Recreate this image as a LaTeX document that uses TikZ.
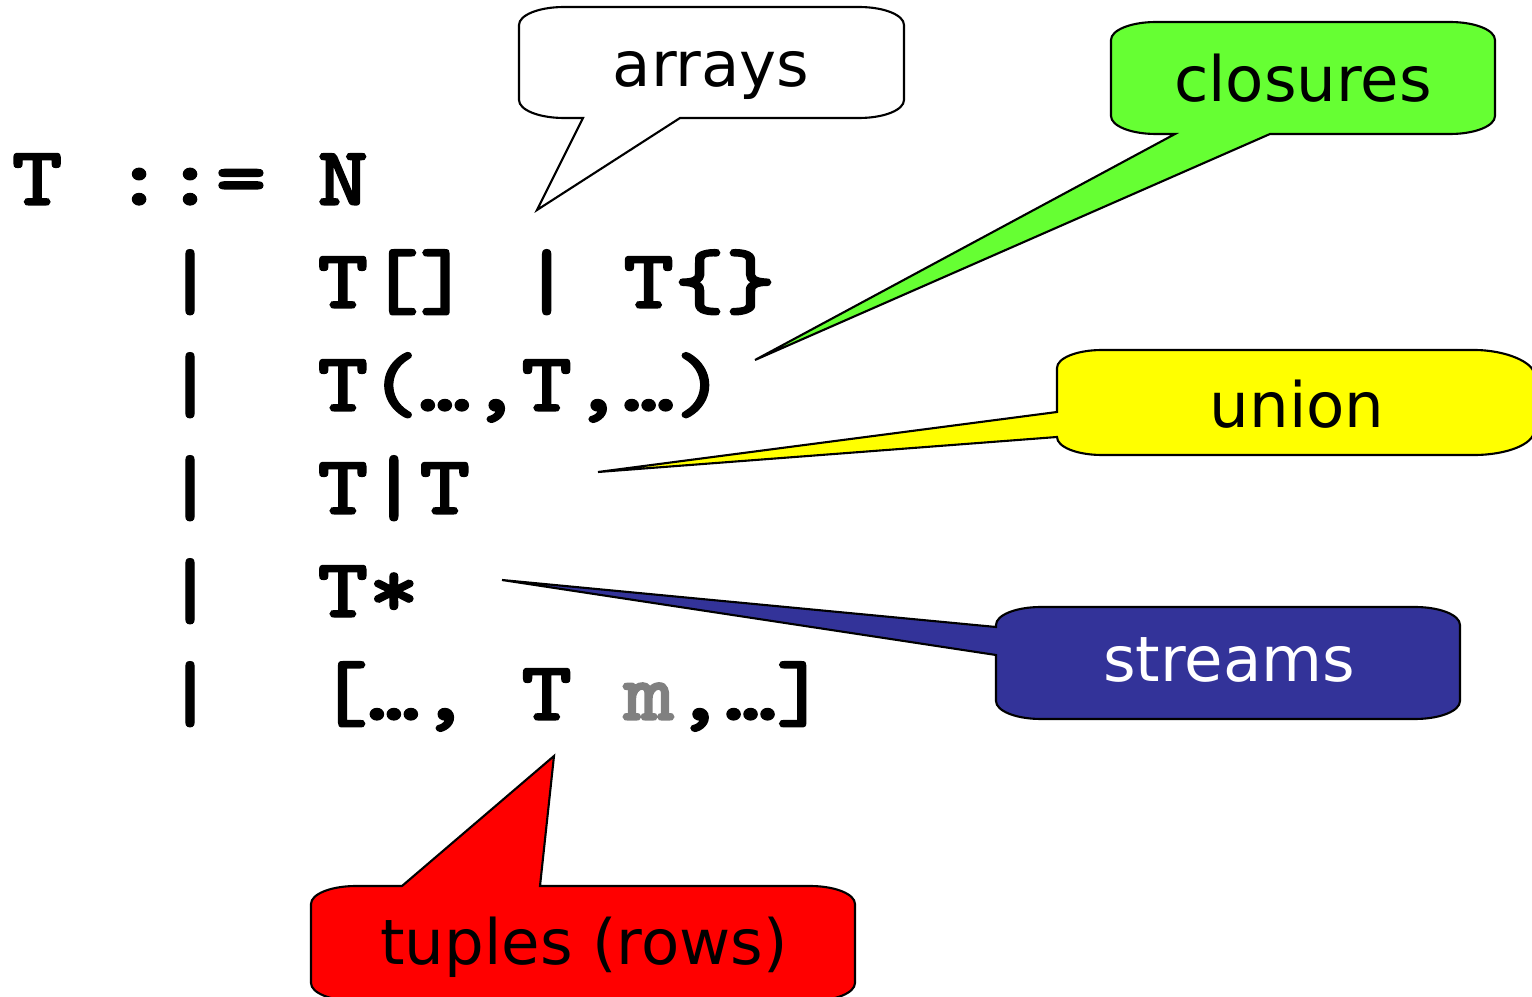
\documentclass[tikz,border=0pt]{standalone}
\usepackage{fontspec}
\setmainfont{DejaVu Sans}
\newfontfamily\grammono{lmmonolt10-bold}[Extension=.otf, FakeBold=1.5, FakeStretch=1.15]
\definecolor{clgreen}{RGB}{102,255,51}
\definecolor{clyellow}{RGB}{255,255,0}
\definecolor{clnavy}{RGB}{51,51,153}
\definecolor{clred}{RGB}{255,0,0}
\definecolor{clgray}{RGB}{128,128,128}
\tikzset{
  gram/.style={anchor=base west, inner sep=0pt,
    font=\grammono\fontsize{24}{29}\selectfont},
  bubble/.style={draw=black, line width=0.6pt, line join=miter},
  tag/.style={anchor=base, inner sep=0pt,
    font=\fontsize{17.8}{21}\selectfont}
}

\begin{document}
\begin{tikzpicture}[x=0.01cm, y=-0.01cm]
  \clip (0,0) rectangle (1532,997);

  % pointer tips
  \coordinate (arrtip) at (537,210);
  \coordinate (clotip) at (755,360);
  \coordinate (unitip) at (598,472);
  \coordinate (strtip) at (502,580);
  \coordinate (tuptip) at (554,756);

  % arrays
  \draw[bubble, fill=white] (564,7) -- (859,7) .. controls (884,7) and (904,15) .. (904,25)
    -- (904,100) .. controls (904,110) and (884,118) .. (859,118) -- (680,118) -- (arrtip)
    -- (583,118) -- (564,118) .. controls (539,118) and (519,110) .. (519,100)
    -- (519,25) .. controls (519,15) and (539,7) .. (564,7) -- cycle;
  \node[tag] (arrays) at (711,87) {arrays};

  % closures
  \draw[bubble, fill=clgreen] (1156,22) -- (1450,22) .. controls (1475,22) and (1495,30) .. (1495,40)
    -- (1495,116) .. controls (1495,126) and (1475,134) .. (1450,134) -- (1270,134) -- (clotip)
    -- (1175,134) -- (1156,134) .. controls (1131,134) and (1111,126) .. (1111,116)
    -- (1111,40) .. controls (1111,30) and (1131,22) .. (1156,22) -- cycle;
  \node[tag] (closures) at (1303,102) {closures};

  % union
  \draw[bubble, fill=clyellow] (1102,350) -- (1474,350) .. controls (1507,350) and (1534,363) .. (1534,374)
    -- (1534,431) .. controls (1534,444) and (1507,455) .. (1474,455) -- (1102,455)
    .. controls (1077,455) and (1057,447) .. (1057,437) -- (unitip) -- (1057,412)
    -- (1057,368) .. controls (1057,358) and (1077,350) .. (1102,350) -- cycle;
  \node[tag] (union) at (1297,428) {union};

  % streams
  \draw[bubble, fill=clnavy] (1041,607) -- (1415,607) .. controls (1440,607) and (1460,615) .. (1460,625)
    -- (1460,701) .. controls (1460,711) and (1440,719) .. (1415,719) -- (1041,719)
    .. controls (1016,719) and (996,711) .. (996,701) -- (996,655) -- (strtip) -- (996,627)
    -- (996,625) .. controls (996,615) and (1016,607) .. (1041,607) -- cycle;
  \node[tag, text=white] (streams) at (1229,682) {streams};

  % tuples (rows)
  \draw[bubble, fill=clred] (356,886) -- (402,886) -- (tuptip) -- (540,886)
    -- (810,886) .. controls (835,886) and (855,894) .. (855,904) -- (855,983)
    .. controls (855,993) and (835,1001) .. (810,1001) -- (356,1001)
    .. controls (331,1001) and (311,993) .. (311,983) -- (311,904)
    .. controls (311,894) and (331,886) .. (356,886) -- cycle;
  \node[tag] (tuples) at (584,964) {tuples (rows)};

  % type grammar
  \node[gram] (rowN)   at (11,205) {T~::=~N};
  \node[gram] (rowArr) at (11,308) {~~~|~~T[]~|~T\{\}};
  \node[gram] (rowFun) at (11,411) {~~~|~~T(…,T,…)};
  \node[gram] (rowUni) at (11,514) {~~~|~~T|T};
  \node[gram] (rowStr) at (11,617) {~~~|~~T*};
  \node[gram] (rowTup) at (11,720) {~~~|~~[…,~T~\textcolor{clgray}{m},…]};
\end{tikzpicture}
\end{document}
